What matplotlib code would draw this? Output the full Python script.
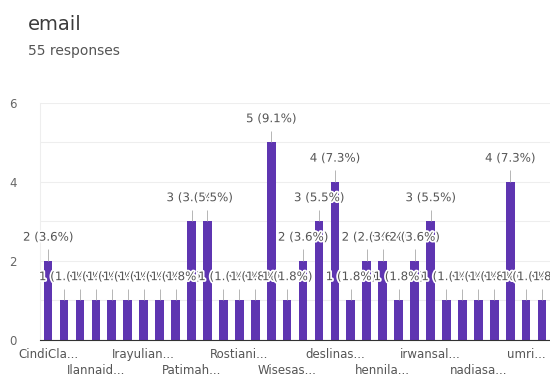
import matplotlib.pyplot as plt
import matplotlib.patheffects as pe

# Data
counts = [2, 1, 1, 1, 1, 1, 1, 1, 1, 3, 3, 1, 1, 1, 5, 1,
          2, 3, 4, 1, 2, 2, 1, 2, 3, 1, 1, 1, 1, 4, 1, 1]
tick_labels = ['CindiCla...', 'Ilannaid...', 'Irayulian...', 'Patimah...',
               'Rostiani...', 'Wisesas...', 'deslinas...', 'hennila...',
               'irwansal...', 'nadiasa...', 'umri...']
total = 55

purple = '#5e35b1'
grey = '#555555'

fig = plt.figure(figsize=(5.5, 3.81), dpi=100)
ax = fig.add_axes([0.073, 0.108, 0.927, 0.622])

x = list(range(len(counts)))
ax.bar(x, counts, width=0.55, color=purple, zorder=2)

# leader lines + value labels (white halo like the original)
ax.vlines(x, counts, [c + 0.3 for c in counts], color='#aaaaaa', lw=0.6, zorder=3)
for xi, c in zip(x, counts):
    ax.text(xi, c + 0.6, f'{c} ({c / total * 100:.1f}%)', ha='center', va='center',
            fontsize=8.5, color=grey, zorder=4,
            path_effects=[pe.withStroke(linewidth=2.5, foreground='white')])

ax.set_xlim(-0.5, len(counts) - 0.5)
ax.set_ylim(0, 6)
ax.set_yticks([0, 2, 4, 6])
ax.set_yticks([1, 3, 5], minor=True)
ax.grid(axis='y', which='both', color='#eeeeee', lw=0.8, zorder=0)
ax.tick_params(axis='y', which='both', length=0, labelsize=8.5, labelcolor='#666666', pad=17)

# x tick labels every 3 bars, alternating two rows
ax.set_xticks(x[::3])
ax.set_xticklabels([])
ax.tick_params(axis='x', length=0)
for i, (xi, lab) in enumerate(zip(x[::3], tick_labels)):
    ax.text(xi, -0.38 - 0.4 * (i % 2), lab, ha='center', va='center',
            fontsize=8.5, color=grey, clip_on=False)

for s in ['top', 'right']:
    ax.spines[s].set_visible(False)
ax.spines['left'].set_color('#eeeeee')
ax.spines['bottom'].set_color('#333333')
ax.spines['bottom'].set_zorder(5)

fig.text(0.051, 0.935, 'email', fontsize=14, color='#3c3c3c', va='center')
fig.text(0.051, 0.866, '55 responses', fontsize=10, color='#555555', va='center')

plt.savefig('out.png', dpi=100)
